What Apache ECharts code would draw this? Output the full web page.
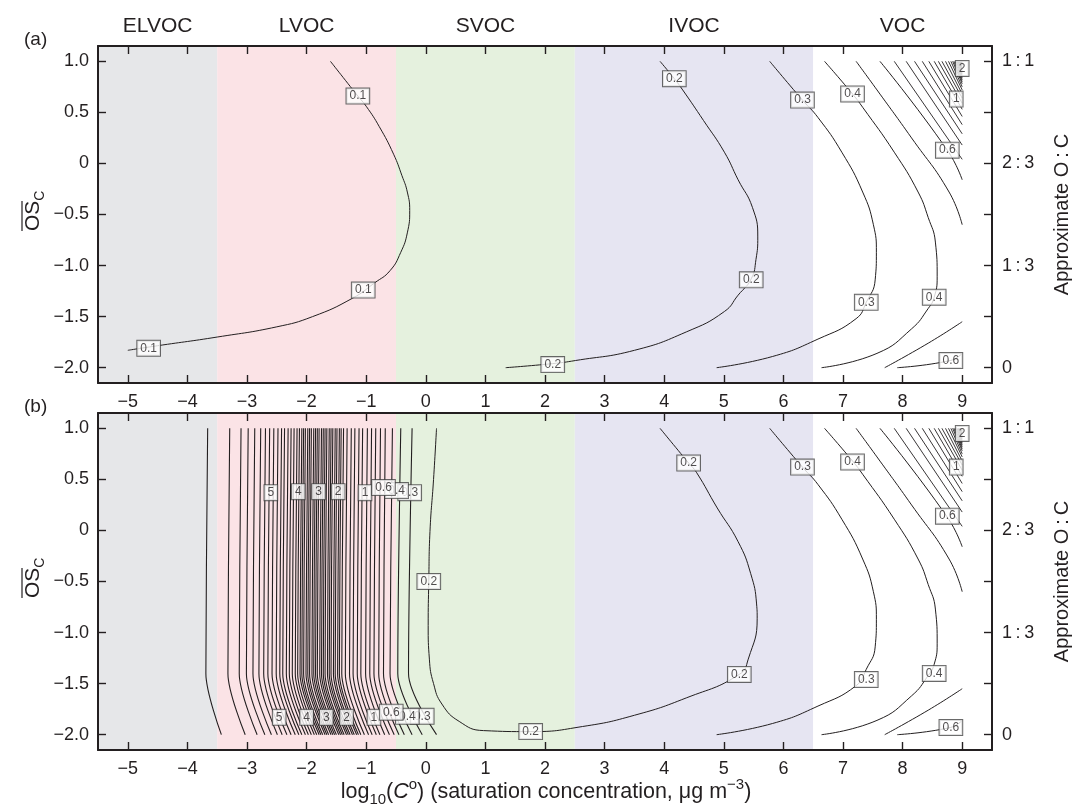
<!DOCTYPE html>
<html>
<head>
<meta charset="utf-8">
<title>VBS contours</title>
<script src="https://cdn.jsdelivr.net/npm/echarts@6.0.0/dist/echarts.min.js"></script>
<style>
  html, body { margin: 0; padding: 0; background: #fff; }
  #chart { width: 1073px; height: 807px; }
</style>
</head>
<body>
<div id="chart"></div>
<script>
// ---- axes ----
var xTicks = [-5, -4, -3, -2, -1, 0, 1, 2, 3, 4, 5, 6, 7, 8, 9];
var yTicks = [-2, -1.5, -1, -0.5, 0, 0.5, 1];
var ocTicks = [-2, -1, 0, 1];
var ocNames = ['0', '1\u2009:\u20093', '2\u2009:\u20093', '1\u2009:\u20091'];

// ---- volatility classes ----
var bandEdges = [-5.5, -3.5, -0.5, 2.5, 6.5, 9.5];
var bandNames = ['ELVOC', 'LVOC', 'SVOC', 'IVOC', 'VOC'];
var bandColors = ['#e6e7e9', '#fbe3e6', '#e5f1de', '#e6e5f2', '#ffffff'];

// ---- panel (a) contours, [log10 C*, OSc] ----
var a01 = [[-5.0, -1.83], [-4.5, -1.785], [-3.5, -1.70], [-2.5, -1.60], [-1.9, -1.50], [-1.23, -1.32], [-0.86, -1.17],
  [-0.6, -1.05], [-0.42, -0.87], [-0.31, -0.68], [-0.27, -0.46], [-0.31, -0.28], [-0.40, -0.12], [-0.54, 0.09],
  [-0.78, 0.36], [-1.0, 0.56], [-1.14, 0.66], [-1.6, 1.0]];
var a02 = [[1.34, -2.0], [2.13, -1.96], [2.51, -1.93], [3.5, -1.83], [4.37, -1.65], [5.01, -1.45], [5.24, -1.29],
  [5.46, -1.13], [5.54, -0.94], [5.57, -0.72], [5.48, -0.43], [5.24, -0.16], [5.01, 0.11], [4.66, 0.42],
  [4.31, 0.72], [4.17, 0.83], [3.93, 1.0]];
// shared with panel (b): volatile side is unchanged
var c03 = [[4.88, -2.0], [5.82, -1.89], [6.58, -1.72], [7.22, -1.52], [7.39, -1.36], [7.54, -1.14], [7.56, -0.87],
  [7.51, -0.60], [7.33, -0.28], [6.98, 0.11], [6.58, 0.45], [6.32, 0.62], [5.77, 1.0]];
var c04 = [[6.64, -2.0], [7.57, -1.86], [8.15, -1.62], [8.43, -1.42], [8.53, -1.31], [8.58, -1.11], [8.55, -0.77],
  [8.43, -0.53], [8.26, -0.28], [7.86, 0.11], [7.33, 0.55], [7.16, 0.68], [6.69, 1.0]];
var c05up = [[7.22, 1.0], [7.57, 0.72], [8.15, 0.25], [8.78, -0.28], [9.0, -0.6]];
var c05lo = [[7.70, -2.0], [8.43, -1.76], [9.0, -1.55]];
var c06up = [[7.62, 1.0], [8.75, 0.13], [9.0, -0.16]];
var c06lo = [[7.91, -2.0], [8.80, -1.93], [9.0, -1.86]];
// steep corner contours (0.7 and up): where they leave the top edge and the right edge
var cornerTopX = [7.86, 8.06, 8.20, 8.33, 8.44, 8.53, 8.60, 8.66, 8.72, 8.77, 8.81, 8.84, 8.86, 8.88,
  8.90, 8.915, 8.93, 8.94, 8.95, 8.96, 8.97, 8.98, 8.99];
var cornerRightY = [0.04, 0.18, 0.29, 0.38, 0.46, 0.53, 0.59, 0.64, 0.68, 0.72, 0.75, 0.78, 0.80, 0.82,
  0.84, 0.86, 0.88, 0.90, 0.92, 0.94, 0.96, 0.97, 0.98];

// ---- panel (b) ----
var b02 = [[0.18, 1.0], [0.13, 0.50], [0.07, -0.01], [0.05, -0.50], [0.04, -0.93], [0.06, -1.26], [0.13, -1.50],
  [0.27, -1.70], [0.56, -1.87], [0.97, -1.96], [1.76, -1.97], [2.63, -1.92], [3.5, -1.81], [4.37, -1.64],
  [5.26, -1.41], [5.41, -1.26], [5.56, -0.86], [5.55, -0.72], [5.45, -0.42], [5.24, -0.11], [4.89, 0.22],
  [4.54, 0.57], [4.41, 0.66], [3.93, 1.0]];
// dense low-volatility lines: x at OSc = 1.0, x at OSc = -1.4, x at OSc = -2.0
var lvocLines = [
  [-3.66, -3.69, -3.43], [-3.29, -3.32, -3.03], [-3.10, -3.13, -2.83], [-2.98, -3.01, -2.70],
  [-2.87, -2.90, -2.59], [-2.77, -2.80, -2.49], [-2.69, -2.72, -2.41], [-2.62, -2.65, -2.33],
  [-2.55, -2.58, -2.26], [-2.48, -2.51, -2.19], [-2.42, -2.45, -2.13], [-2.37, -2.40, -2.08],
  [-2.31, -2.34, -2.02], [-2.26, -2.29, -1.97], [-2.21, -2.24, -1.92], [-2.16, -2.19, -1.87],
  [-2.12, -2.15, -1.83], [-2.08, -2.11, -1.79], [-2.05, -2.08, -1.76], [-2.02, -2.05, -1.73],
  [-1.98, -2.01, -1.69], [-1.95, -1.98, -1.66], [-1.92, -1.95, -1.63], [-1.88, -1.91, -1.59],
  [-1.85, -1.88, -1.56], [-1.82, -1.85, -1.53], [-1.79, -1.82, -1.50], [-1.75, -1.78, -1.46],
  [-1.72, -1.75, -1.43], [-1.69, -1.72, -1.40], [-1.66, -1.69, -1.37], [-1.62, -1.65, -1.33],
  [-1.59, -1.62, -1.30], [-1.56, -1.59, -1.27], [-1.52, -1.55, -1.23], [-1.49, -1.52, -1.20],
  [-1.45, -1.48, -1.16], [-1.42, -1.45, -1.13], [-1.38, -1.41, -1.09], [-1.32, -1.35, -1.03],
  [-1.25, -1.28, -0.96], [-1.19, -1.22, -0.90], [-1.12, -1.15, -0.83], [-1.06, -1.09, -0.77],
  [-0.98, -1.01, -0.69], [-0.91, -0.94, -0.61], [-0.84, -0.87, -0.53], [-0.76, -0.79, -0.45],
  [-0.68, -0.71, -0.36], [-0.56, -0.60, -0.23], [-0.42, -0.47, -0.06], [-0.23, -0.29, 0.18]];

// ---- contour labels [x, y, text] ----
var labelsA = [[-1.14, 0.66, '0.1'], [-1.05, -1.24, '0.1'], [-4.65, -1.81, '0.1'], [4.17, 0.83, '0.2'],
  [5.46, -1.14, '0.2'], [2.13, -1.97, '0.2'], [6.32, 0.62, '0.3'], [7.39, -1.36, '0.3'], [7.16, 0.68, '0.4'],
  [8.53, -1.31, '0.4'], [8.75, 0.13, '0.6'], [8.81, -1.93, '0.6'], [8.90, 0.63, '1'], [9.0, 0.93, '2']];
var labelsB = [[-2.60, 0.37, '5'], [-2.14, 0.38, '4'], [-1.80, 0.38, '3'], [-1.47, 0.38, '2'], [-1.02, 0.37, '1'],
  [-0.27, 0.37, '0.3'], [-0.49, 0.39, '0.4'], [-0.71, 0.42, '0.6'],
  [-2.46, -1.83, '5'], [-2.0, -1.83, '4'], [-1.67, -1.83, '3'], [-1.33, -1.83, '2'], [-0.87, -1.83, '1'],
  [-0.06, -1.82, '0.3'], [-0.31, -1.82, '0.4'], [-0.58, -1.78, '0.6'],
  [0.05, -0.50, '0.2'], [1.76, -1.97, '0.2'], [4.41, 0.66, '0.2'], [5.26, -1.41, '0.2'],
  [6.32, 0.62, '0.3'], [7.39, -1.46, '0.3'], [7.16, 0.67, '0.4'], [8.53, -1.40, '0.4'],
  [8.75, 0.14, '0.6'], [8.81, -1.93, '0.6'], [8.90, 0.62, '1'], [9.0, 0.95, '2']];

var FONT = '"Liberation Sans", Arial, Helvetica, sans-serif';
var INK = '#231f20';
var grids = [{ top: 46 }, { top: 413 }];

function minus(s) { return String(s).replace('-', '\u2212'); }

var chart = echarts.init(document.getElementById('chart'));

var xAxes = [], yAxes = [], series = [];
var frame = { show: true, onZero: false, lineStyle: { color: INK, width: 2 } };
var tick = function (vals) {
  return { show: true, inside: true, length: 8, customValues: vals, lineStyle: { color: INK, width: 1.4 } };
};
var lab = { color: INK, fontSize: 18, fontFamily: FONT };

grids.forEach(function (g, i) {
  xAxes.push({ gridIndex: i, type: 'value', min: -5.5, max: 9.5, position: 'bottom', z: 10, axisLine: frame,
    axisTick: tick(xTicks), splitLine: { show: false },
    axisLabel: Object.assign({ customValues: xTicks, margin: 10, formatter: function (v) { return minus(v); } }, lab) });
  xAxes.push({ gridIndex: i, type: 'value', min: -5.5, max: 9.5, position: 'top', z: 10, axisLine: frame,
    axisTick: tick(xTicks), splitLine: { show: false }, axisLabel: { show: false } });
  yAxes.push({ gridIndex: i, type: 'value', min: -2.15, max: 1.15, position: 'left', z: 10, axisLine: frame,
    axisTick: tick(yTicks), splitLine: { show: false },
    axisLabel: Object.assign({ customValues: yTicks, margin: 9,
      formatter: function (v) { return v === 0 ? '0' : minus(v.toFixed(1)); } }, lab) });
  yAxes.push({ gridIndex: i, type: 'value', min: -2.15, max: 1.15, position: 'right', z: 10, axisLine: frame,
    axisTick: tick(yTicks), splitLine: { show: false },
    axisLabel: Object.assign({ customValues: ocTicks, margin: 10,
      formatter: function (v) { return ocNames[ocTicks.indexOf(v)]; } }, lab) });

  // class backgrounds, names over panel (a)
  series.push({ type: 'line', xAxisIndex: i * 2, yAxisIndex: i * 2, data: [], silent: true, z: 1,
    markArea: { silent: true, data: bandNames.map(function (n, k) {
      return [{ name: n, xAxis: bandEdges[k], itemStyle: { color: bandColors[k] },
        label: { show: i === 0, position: 'top', distance: 9, color: INK, fontSize: 21, fontFamily: FONT } },
        { xAxis: bandEdges[k + 1] }];
    }) } });
});

function addLine(gi, pts, sm, w) {
  series.push({ type: 'line', xAxisIndex: gi * 2, yAxisIndex: gi * 2, data: pts, showSymbol: false,
    smooth: sm === undefined ? 0.5 : sm, silent: true, z: 3, lineStyle: { color: INK, width: w || 1 } });
}

[a01, a02, c03, c04, c05up, c05lo, c06up, c06lo].forEach(function (c) { addLine(0, c); });
[b02, c03, c04, c05up, c05lo, c06up, c06lo].forEach(function (c) { addLine(1, c); });
[0, 1].forEach(function (gi) {
  cornerTopX.forEach(function (x, k) { addLine(gi, [[x, 1.0], [9.0, cornerRightY[k]]], 0, 0.9); });
});
lvocLines.forEach(function (l) { addLine(1, [[l[0], 1.0], [l[1], -1.4], [l[2], -2.0]], 0.3, 1.1); });

[labelsA, labelsB].forEach(function (ls, gi) {
  series.push({ type: 'scatter', xAxisIndex: gi * 2, yAxisIndex: gi * 2, silent: true, z: 10,
    symbolSize: 1, itemStyle: { color: 'rgba(0,0,0,0)' },
    data: ls.map(function (l) { return { value: [l[0], l[1]], name: l[2] }; }),
    label: { show: true, position: 'inside', formatter: '{b}', fontSize: 12, fontFamily: FONT, color: INK,
      backgroundColor: '#fff', borderColor: '#444', borderWidth: 1, padding: [2, 3, 1, 3] } });
});

var graphic = [];
grids.forEach(function (g, i) {
  var cy = g.top + 337 / 2;
  graphic.push({ type: 'text', x: 24, y: g.top - 6,
    style: { text: i === 0 ? '(a)' : '(b)', verticalAlign: 'middle', fontSize: 19, fontFamily: FONT, fill: INK } });
  graphic.push({ type: 'group', x: 33, y: g.top + 165, rotation: Math.PI / 2, children: [
    { type: 'text', style: { text: '{o|OS}{s|C}', x: -20, y: 0, align: 'left', verticalAlign: 'middle',
      rich: { o: { fontSize: 21, fontFamily: FONT, fill: INK, lineHeight: 28, verticalAlign: 'middle' },
              s: { fontSize: 14, fontFamily: FONT, fill: INK, lineHeight: 14, verticalAlign: 'bottom' } } } },
    { type: 'line', shape: { x1: -20, y1: -11, x2: 10, y2: -11 }, style: { stroke: INK, lineWidth: 1.2 } }
  ] });
  graphic.push({ type: 'text', x: 1062, y: cy, rotation: Math.PI / 2,
    style: { text: 'Approximate O\u2009:\u2009C', align: 'center', verticalAlign: 'middle', fontSize: 20,
      fontFamily: FONT, fill: INK } });
});
graphic.push({ type: 'text', x: 546, y: 792,
  style: { text: '{n|log}{s|10}{n|(}{i|C}{p|o}{n|) (saturation concentration, \u03bcg m}{p|\u22123}{n|)}',
    align: 'center', verticalAlign: 'middle',
    rich: { n: { fontSize: 21.5, fontFamily: FONT, fill: INK, lineHeight: 30, verticalAlign: 'middle' },
            i: { fontSize: 21.5, fontFamily: FONT, fontStyle: 'italic', fill: INK, lineHeight: 30, verticalAlign: 'middle' },
            s: { fontSize: 15, fontFamily: FONT, fill: INK, lineHeight: 15, verticalAlign: 'bottom' },
            p: { fontSize: 15, fontFamily: FONT, fill: INK, lineHeight: 15, verticalAlign: 'top' } } } });

chart.setOption({
  animation: false,
  backgroundColor: '#fff',
  grid: grids.map(function (g) { return { left: 98, right: 81, top: g.top, height: 337 }; }),
  xAxis: xAxes,
  yAxis: yAxes,
  series: series,
  graphic: graphic
});
</script>
</body>
</html>
